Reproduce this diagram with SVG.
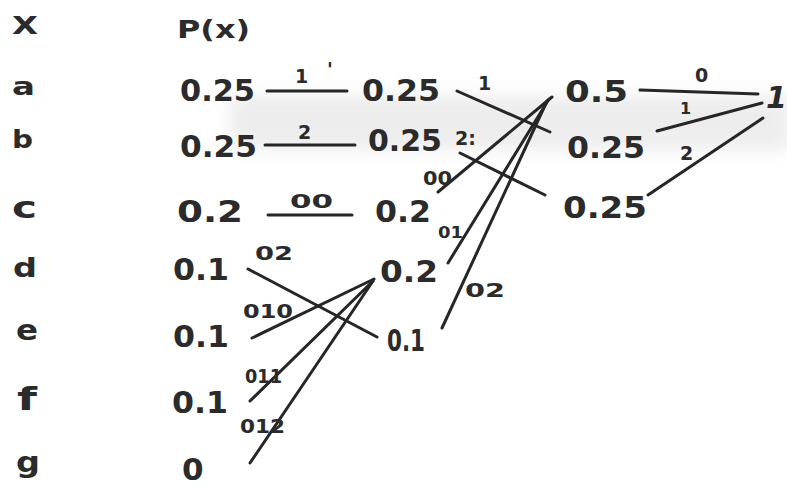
<svg xmlns="http://www.w3.org/2000/svg" width="787" height="487" viewBox="0 0 787 487">
<defs>
<filter id="soft" x="-10%" y="-50%" width="120%" height="200%"><feGaussianBlur stdDeviation="8"/></filter>
<style>
.t{font-family:"DejaVu Sans","Liberation Sans",sans-serif;fill:#2b2b2b;font-weight:bold;}
.v{font-size:31px;}
.h{font-size:24px;}
.l{font-size:19px;}
.s{font-size:16px;}
.c line{stroke:#262626;stroke-width:3;stroke-linecap:round;fill:none;}
</style>
</defs>
<rect width="787" height="487" fill="#ffffff"/>
<rect x="230" y="95" width="560" height="55" fill="#e6e6e6" filter="url(#soft)" opacity="0.7"/>

<g id="headers">
<text class="t h" x="12" y="34" textLength="26" lengthAdjust="spacingAndGlyphs">X</text>
<text class="t h" x="177" y="38" textLength="73" lengthAdjust="spacingAndGlyphs">P(x)</text>
</g>

<g id="symbols">
<text class="t h" x="12" y="95" textLength="23" lengthAdjust="spacingAndGlyphs">a</text>
<text class="t h" x="12" y="148" textLength="21" lengthAdjust="spacingAndGlyphs">b</text>
<text class="t" x="12" y="218" font-size="30" textLength="25" lengthAdjust="spacingAndGlyphs">c</text>
<text class="t" x="13" y="277" font-size="26" textLength="24" lengthAdjust="spacingAndGlyphs">d</text>
<text class="t" x="16" y="340" font-size="28" textLength="22" lengthAdjust="spacingAndGlyphs">e</text>
<text class="t" x="17" y="410" font-size="32" textLength="20" lengthAdjust="spacingAndGlyphs">f</text>
<text class="t" x="16" y="472" font-size="28" textLength="24" lengthAdjust="spacingAndGlyphs">g</text>
</g>

<g id="n-a0"><text class="t v" x="180" y="101" textLength="75" lengthAdjust="spacingAndGlyphs">0.25</text></g>
<g id="n-b0"><text class="t v" x="180" y="157" textLength="77" lengthAdjust="spacingAndGlyphs">0.25</text></g>
<g id="n-c0"><text class="t v" x="177" y="222" textLength="66" lengthAdjust="spacingAndGlyphs">0.2</text></g>
<g id="n-d0"><text class="t v" x="173" y="280" textLength="56" lengthAdjust="spacingAndGlyphs">0.1</text></g>
<g id="n-e0"><text class="t v" x="173" y="347" textLength="56" lengthAdjust="spacingAndGlyphs">0.1</text></g>
<g id="n-f0"><text class="t v" x="172" y="413" textLength="56" lengthAdjust="spacingAndGlyphs">0.1</text></g>
<g id="n-g0"><text class="t v" x="182" y="480" font-size="28">0</text></g>

<g id="n-a1"><text class="t v" x="362" y="101" textLength="78" lengthAdjust="spacingAndGlyphs">0.25</text></g>
<g id="n-b1"><text class="t v" x="368" y="151" textLength="74" lengthAdjust="spacingAndGlyphs">0.25</text></g>
<g id="n-c1"><text class="t v" x="375" y="222" textLength="56" lengthAdjust="spacingAndGlyphs">0.2</text></g>
<g id="n-de1"><text class="t v" x="380" y="282" textLength="58" lengthAdjust="spacingAndGlyphs">0.2</text></g>
<g id="n-d1"><text class="t v" x="387" y="351" textLength="38" lengthAdjust="spacingAndGlyphs">0.1</text></g>

<g id="n-a2"><text class="t v" x="565" y="102" textLength="63" lengthAdjust="spacingAndGlyphs">0.5</text></g>
<g id="n-b2"><text class="t v" x="567" y="158" textLength="78" lengthAdjust="spacingAndGlyphs">0.25</text></g>
<g id="n-c2"><text class="t v" x="563" y="218" textLength="84" lengthAdjust="spacingAndGlyphs">0.25</text></g>

<g id="n-root"><text class="t" x="766" y="108" font-size="30" font-style="italic">1</text></g>

<g id="connectors" class="c">
<line x1="267" y1="91" x2="347" y2="91"/>
<line x1="265" y1="145" x2="355" y2="145"/>
<line x1="268" y1="215" x2="352" y2="215"/>
<line x1="248" y1="269" x2="377" y2="337"/>
<line x1="252" y1="338" x2="374" y2="279"/>
<line x1="250" y1="401" x2="373" y2="281"/>
<line x1="250" y1="463" x2="373" y2="281"/>
<line x1="457" y1="91" x2="550" y2="132"/>
<line x1="460" y1="153" x2="545" y2="195"/>
<line x1="438" y1="192" x2="552" y2="97"/>
<line x1="448" y1="263" x2="549" y2="99"/>
<line x1="442" y1="328" x2="547" y2="101"/>
<line x1="640" y1="90" x2="758" y2="94"/>
<line x1="657" y1="131" x2="762" y2="103"/>
<line x1="648" y1="195" x2="763" y2="118"/>
</g>

<g id="edge-labels">
<text class="t l" x="295" y="83">1</text>
<text class="t l" x="327" y="76" font-size="14">'</text>
<text class="t l" x="298" y="139">2</text>
<text class="t l" x="290" y="208" textLength="43" lengthAdjust="spacingAndGlyphs">00</text>
<text class="t s" x="438" y="238" textLength="25" lengthAdjust="spacingAndGlyphs">01</text>
<text class="t l" x="255" y="260" textLength="38" lengthAdjust="spacingAndGlyphs">02</text>
<text class="t l" x="243" y="318" textLength="50" lengthAdjust="spacingAndGlyphs">010</text>
<text class="t l" x="245" y="383" textLength="37" lengthAdjust="spacingAndGlyphs">011</text>
<text class="t l" x="240" y="433" textLength="45" lengthAdjust="spacingAndGlyphs">012</text>
<text class="t l" x="478" y="90">1</text>
<text class="t l" x="455" y="145">2:</text>
<text class="t l" x="423" y="185" textLength="29" lengthAdjust="spacingAndGlyphs">00</text>
<text class="t l" x="465" y="297" textLength="40" lengthAdjust="spacingAndGlyphs">02</text>
<text class="t l" x="695" y="82">0</text>
<text class="t s" x="680" y="114">1</text>
<text class="t l" x="680" y="160">2</text>
</g>
</svg>
